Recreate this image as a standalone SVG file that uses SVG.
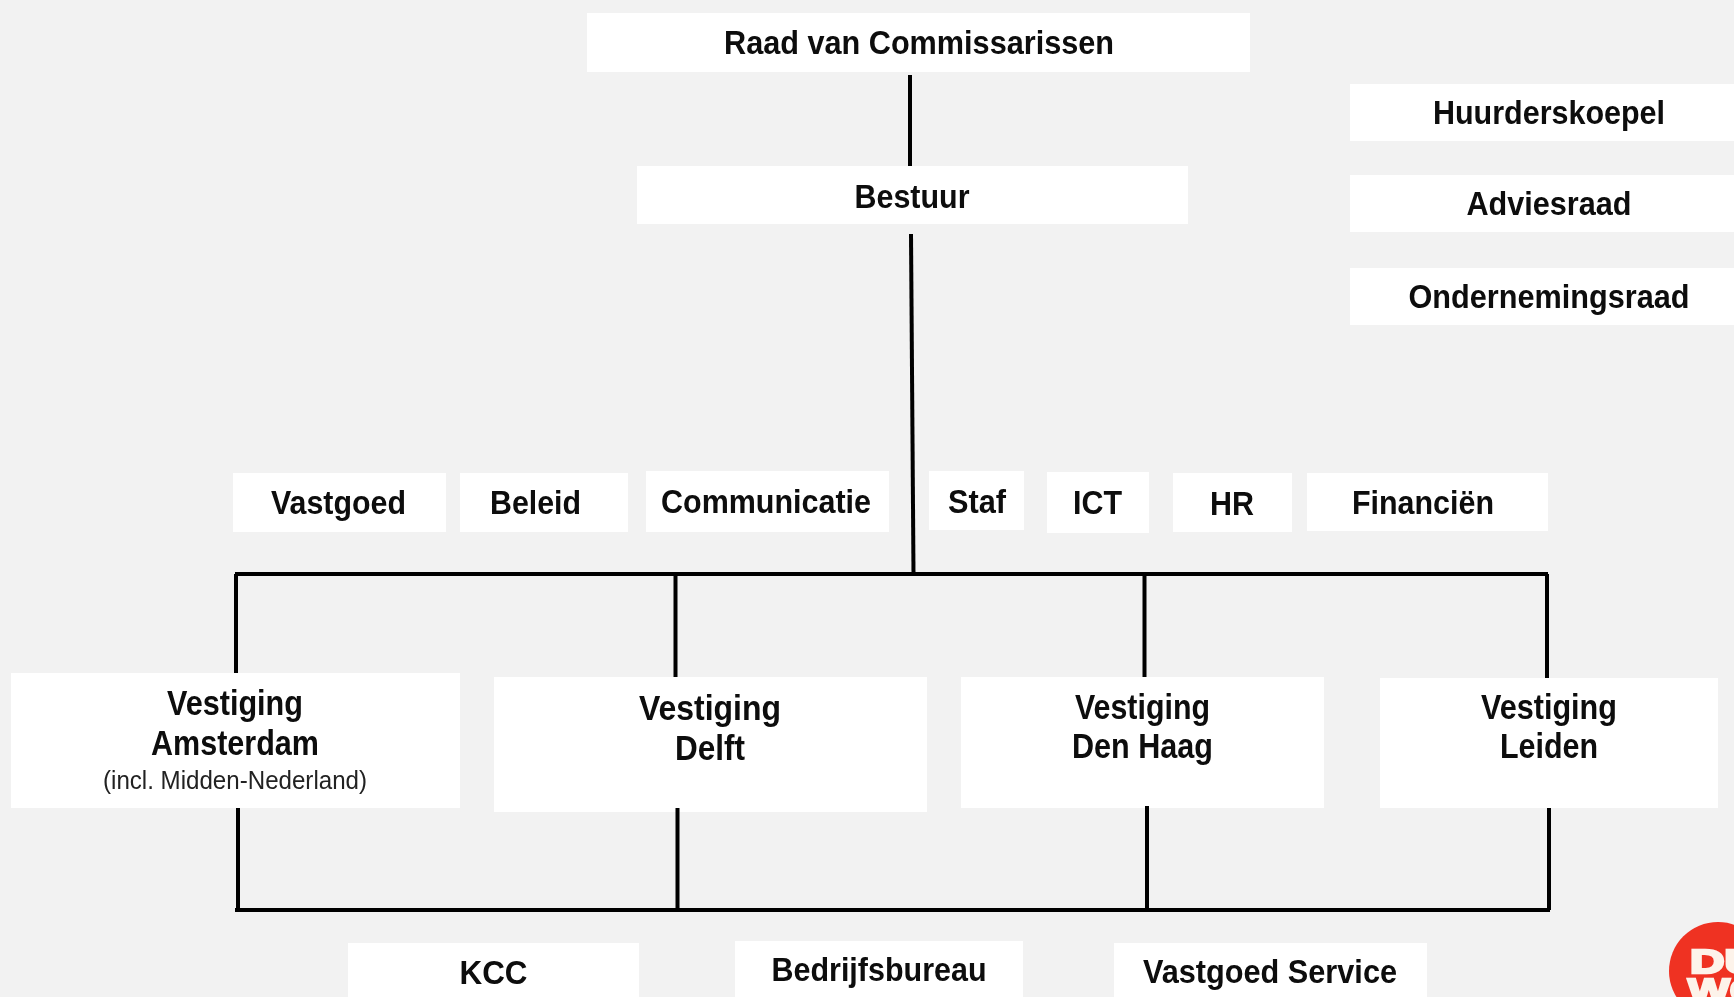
<svg xmlns="http://www.w3.org/2000/svg" width="1734" height="997" viewBox="0 0 1734 997">
<style>
.box{fill:#fff}
.t{font-family:"Liberation Sans",Arial,sans-serif;font-weight:700;font-size:33px;fill:#0a0a0a;text-anchor:middle}
.v{font-size:35px}
.s{font-weight:400;font-size:25px;fill:#222}
.c{fill:none;stroke:#000;stroke-width:4}
.lg{font-family:"Liberation Sans",Arial,sans-serif;font-weight:700;font-size:34px;fill:#fdf3ea;stroke:#fdf3ea;stroke-width:2.500}
</style>
<defs><filter id="soft" x="0" y="0" width="100%" height="100%" filterUnits="objectBoundingBox"><feGaussianBlur stdDeviation="0.550"/></filter></defs>
<rect width="1734" height="997" fill="#f2f2f2"/>
<g filter="url(#soft)">
<rect width="1734" height="997" fill="#f2f2f2"/>
<g id="rvc"><rect class="box" x="587" y="13" width="663" height="59"/><text class="t" x="919" y="54" textLength="390" lengthAdjust="spacingAndGlyphs">Raad van Commissarissen</text></g>
<g id="bestuur"><rect class="box" x="637" y="166" width="551" height="58"/><text class="t" x="912" y="208" textLength="115" lengthAdjust="spacingAndGlyphs">Bestuur</text></g>
<g id="huurderskoepel"><rect class="box" x="1350" y="84" width="384" height="57"/><text class="t" x="1549" y="124" textLength="232" lengthAdjust="spacingAndGlyphs">Huurderskoepel</text></g>
<g id="adviesraad"><rect class="box" x="1350" y="175" width="384" height="57"/><text class="t" x="1549" y="215" textLength="165" lengthAdjust="spacingAndGlyphs">Adviesraad</text></g>
<g id="ondernemingsraad"><rect class="box" x="1350" y="268" width="384" height="57"/><text class="t" x="1549" y="308" textLength="281" lengthAdjust="spacingAndGlyphs">Ondernemingsraad</text></g>
<g id="vastgoed"><rect class="box" x="233" y="473" width="213" height="59"/><text class="t" x="338.500" y="514" textLength="135" lengthAdjust="spacingAndGlyphs">Vastgoed</text></g>
<g id="beleid"><rect class="box" x="460" y="473" width="168" height="59"/><text class="t" x="535.500" y="514" textLength="91" lengthAdjust="spacingAndGlyphs">Beleid</text></g>
<g id="communicatie"><rect class="box" x="646" y="471" width="243" height="61"/><text class="t" x="766" y="513" textLength="210" lengthAdjust="spacingAndGlyphs">Communicatie</text></g>
<g id="staf"><rect class="box" x="929" y="471" width="95" height="59"/><text class="t" x="977" y="513" textLength="58" lengthAdjust="spacingAndGlyphs">Staf</text></g>
<g id="ict"><rect class="box" x="1047" y="472" width="102" height="61"/><text class="t" x="1097.500" y="514" textLength="49" lengthAdjust="spacingAndGlyphs">ICT</text></g>
<g id="hr"><rect class="box" x="1173" y="473" width="119" height="59"/><text class="t" x="1232" y="515" textLength="44" lengthAdjust="spacingAndGlyphs">HR</text></g>
<g id="financien"><rect class="box" x="1307" y="473" width="241" height="58"/><text class="t" x="1423" y="514" textLength="142" lengthAdjust="spacingAndGlyphs">Financiën</text></g>
<g id="amsterdam"><rect class="box" x="11" y="673" width="449" height="135"/><text class="t v" x="235" y="715" textLength="136" lengthAdjust="spacingAndGlyphs">Vestiging</text><text class="t v" x="235" y="755" textLength="168" lengthAdjust="spacingAndGlyphs">Amsterdam</text><text class="t s" x="235" y="789" textLength="264" lengthAdjust="spacingAndGlyphs">(incl. Midden-Nederland)</text></g>
<g id="delft"><rect class="box" x="494" y="677" width="433" height="135"/><text class="t v" x="710" y="720" textLength="142" lengthAdjust="spacingAndGlyphs">Vestiging</text><text class="t v" x="710" y="760" textLength="70" lengthAdjust="spacingAndGlyphs">Delft</text></g>
<g id="denhaag"><rect class="box" x="961" y="677" width="363" height="131"/><text class="t v" x="1142.500" y="719" textLength="135" lengthAdjust="spacingAndGlyphs">Vestiging</text><text class="t v" x="1142.500" y="758" textLength="141" lengthAdjust="spacingAndGlyphs">Den Haag</text></g>
<g id="leiden"><rect class="box" x="1380" y="678" width="338" height="130"/><text class="t v" x="1549" y="719" textLength="136" lengthAdjust="spacingAndGlyphs">Vestiging</text><text class="t v" x="1549" y="758" textLength="98" lengthAdjust="spacingAndGlyphs">Leiden</text></g>
<g id="kcc"><rect class="box" x="348" y="943" width="291" height="54"/><text class="t" x="493.500" y="984" textLength="68" lengthAdjust="spacingAndGlyphs">KCC</text></g>
<g id="bedrijfsbureau"><rect class="box" x="735" y="941" width="288" height="56"/><text class="t" x="879" y="981" textLength="215" lengthAdjust="spacingAndGlyphs">Bedrijfsbureau</text></g>
<g id="vastgoedservice"><rect class="box" x="1114" y="943" width="313" height="54"/><text class="t" x="1270" y="983" textLength="254" lengthAdjust="spacingAndGlyphs">Vastgoed Service</text></g>
<g id="logo"><circle cx="1718" cy="971" r="49" fill="#ef3024"/><text class="lg" x="1690" y="973" textLength="69" lengthAdjust="spacingAndGlyphs">DU</text><text class="lg" x="1688" y="1002" textLength="76" lengthAdjust="spacingAndGlyphs">WO</text></g>
<g id="connectors">
<path class="c" d="M910 75V166"/>
<path class="c" d="M911 234L913.500 573"/>
<path class="c" d="M235 574H1548"/>
<path class="c" d="M236 574V673M675.500 574V677M1144.500 574V677M1547 574V678"/>
<path class="c" d="M235 910H1550"/>
<path class="c" d="M238 808V910M677.500 808V910M1147 806V910M1549 808V910"/>
</g>
</g>
</svg>
